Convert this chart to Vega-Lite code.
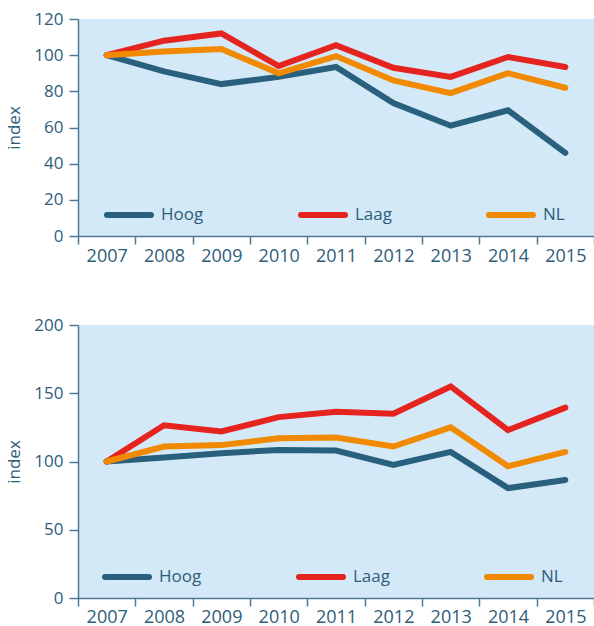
{
  "$schema": "https://vega.github.io/schema/vega-lite/v6.json",
  "padding": {"left": 5, "top": 10, "right": 0, "bottom": 0},
  "background": "white",
  "config": {
    "font": "Open Sans",
    "view": {"fill": "#d4e9f7", "stroke": null},
    "axis": {
      "domainColor": "#4d7a94",
      "tickColor": "#4d7a94",
      "labelColor": "#2e5d7a",
      "titleColor": "#2e5d7a",
      "labelFontSize": 17,
      "titleFontSize": 17,
      "titleFontWeight": "normal",
      "grid": false,
      "domainWidth": 1.5,
      "tickWidth": 1.5
    }
  },
  "datasets": {
    "top": [
      {"year": "2007", "series": "Hoog", "value": 100},
      {"year": "2008", "series": "Hoog", "value": 91},
      {"year": "2009", "series": "Hoog", "value": 84},
      {"year": "2010", "series": "Hoog", "value": 88},
      {"year": "2011", "series": "Hoog", "value": 93.5},
      {"year": "2012", "series": "Hoog", "value": 73.5},
      {"year": "2013", "series": "Hoog", "value": 61},
      {"year": "2014", "series": "Hoog", "value": 69.5},
      {"year": "2015", "series": "Hoog", "value": 46},
      {"year": "2007", "series": "Laag", "value": 100},
      {"year": "2008", "series": "Laag", "value": 108},
      {"year": "2009", "series": "Laag", "value": 112},
      {"year": "2010", "series": "Laag", "value": 94},
      {"year": "2011", "series": "Laag", "value": 105.5},
      {"year": "2012", "series": "Laag", "value": 93},
      {"year": "2013", "series": "Laag", "value": 88},
      {"year": "2014", "series": "Laag", "value": 99},
      {"year": "2015", "series": "Laag", "value": 93.5},
      {"year": "2007", "series": "NL", "value": 100},
      {"year": "2008", "series": "NL", "value": 102},
      {"year": "2009", "series": "NL", "value": 103.4},
      {"year": "2010", "series": "NL", "value": 90},
      {"year": "2011", "series": "NL", "value": 99.5},
      {"year": "2012", "series": "NL", "value": 86},
      {"year": "2013", "series": "NL", "value": 79},
      {"year": "2014", "series": "NL", "value": 90},
      {"year": "2015", "series": "NL", "value": 82}
    ],
    "bottom": [
      {"year": "2007", "series": "Hoog", "value": 100},
      {"year": "2008", "series": "Hoog", "value": 103},
      {"year": "2009", "series": "Hoog", "value": 106},
      {"year": "2010", "series": "Hoog", "value": 108.5},
      {"year": "2011", "series": "Hoog", "value": 108},
      {"year": "2012", "series": "Hoog", "value": 97.5},
      {"year": "2013", "series": "Hoog", "value": 107},
      {"year": "2014", "series": "Hoog", "value": 80.5},
      {"year": "2015", "series": "Hoog", "value": 86.5},
      {"year": "2007", "series": "Laag", "value": 100},
      {"year": "2008", "series": "Laag", "value": 126.5},
      {"year": "2009", "series": "Laag", "value": 122},
      {"year": "2010", "series": "Laag", "value": 132.5},
      {"year": "2011", "series": "Laag", "value": 136.5},
      {"year": "2012", "series": "Laag", "value": 135},
      {"year": "2013", "series": "Laag", "value": 155},
      {"year": "2014", "series": "Laag", "value": 123},
      {"year": "2015", "series": "Laag", "value": 139.5},
      {"year": "2007", "series": "NL", "value": 100},
      {"year": "2008", "series": "NL", "value": 111},
      {"year": "2009", "series": "NL", "value": 112},
      {"year": "2010", "series": "NL", "value": 117},
      {"year": "2011", "series": "NL", "value": 117.5},
      {"year": "2012", "series": "NL", "value": 111},
      {"year": "2013", "series": "NL", "value": 125},
      {"year": "2014", "series": "NL", "value": 96.5},
      {"year": "2015", "series": "NL", "value": 107}
    ]
  },
  "spacing": 51,
  "resolve": {"legend": {"color": "independent"}, "scale": {"color": "independent", "y": "independent"}},
  "vconcat": [
    {
      "width": 516,
      "height": 217,
      "data": {"name": "top"},
      "mark": {"type": "line", "strokeWidth": 6, "strokeCap": "round"},
      "encoding": {
        "x": {
          "field": "year", "type": "ordinal", "bandPosition": 0.5,
          "scale": {"type": "band", "paddingInner": 0, "paddingOuter": 0},
          "axis": {"title": null, "labelAngle": 0, "tickBand": "extent", "tickSize": 8, "labelPadding": 3, "labelFontSize": 18}
        },
        "y": {
          "field": "value", "type": "quantitative",
          "scale": {"domain": [0, 120], "nice": false},
          "axis": {"title": "index", "values": [0, 20, 40, 60, 80, 100, 120], "tickSize": 9, "labelPadding": 6, "titlePadding": 10}
        },
        "color": {
          "field": "series", "type": "nominal",
          "scale": {"domain": ["Hoog", "Laag", "NL"], "range": ["#29607d", "#e52420", "#f18a00"]},
          "legend": {
            "title": null, "orient": "none", "legendX": 26, "legendY": 171,
            "direction": "horizontal", "columns": 3, "columnPadding": 85,
            "symbolType": "stroke", "symbolStrokeWidth": 6, "symbolSize": 1936,
            "labelFontSize": 17, "labelColor": "#2e5d7a", "labelOffset": 7,
            "encode": {"symbols": {"update": {"strokeCap": {"value": "round"}}}}
          }
        }
      }
    },
    {
      "width": 516,
      "height": 273,
      "data": {"name": "bottom"},
      "mark": {"type": "line", "strokeWidth": 6, "strokeCap": "round"},
      "encoding": {
        "x": {
          "field": "year", "type": "ordinal", "bandPosition": 0.5,
          "scale": {"type": "band", "paddingInner": 0, "paddingOuter": 0},
          "axis": {"title": null, "labelAngle": 0, "tickBand": "extent", "tickSize": 8, "labelPadding": 2, "labelFontSize": 18}
        },
        "y": {
          "field": "value", "type": "quantitative",
          "scale": {"domain": [0, 200], "nice": false},
          "axis": {"title": "index", "values": [0, 50, 100, 150, 200], "tickSize": 9, "labelPadding": 6, "titlePadding": 10}
        },
        "color": {
          "field": "series", "type": "nominal",
          "scale": {"domain": ["Hoog", "Laag", "NL"], "range": ["#29607d", "#e52420", "#f18a00"]},
          "legend": {
            "title": null, "orient": "none", "legendX": 24, "legendY": 227,
            "direction": "horizontal", "columns": 3, "columnPadding": 85,
            "symbolType": "stroke", "symbolStrokeWidth": 6, "symbolSize": 1936,
            "labelFontSize": 17, "labelColor": "#2e5d7a", "labelOffset": 7,
            "encode": {"symbols": {"update": {"strokeCap": {"value": "round"}}}}
          }
        }
      }
    }
  ]
}
